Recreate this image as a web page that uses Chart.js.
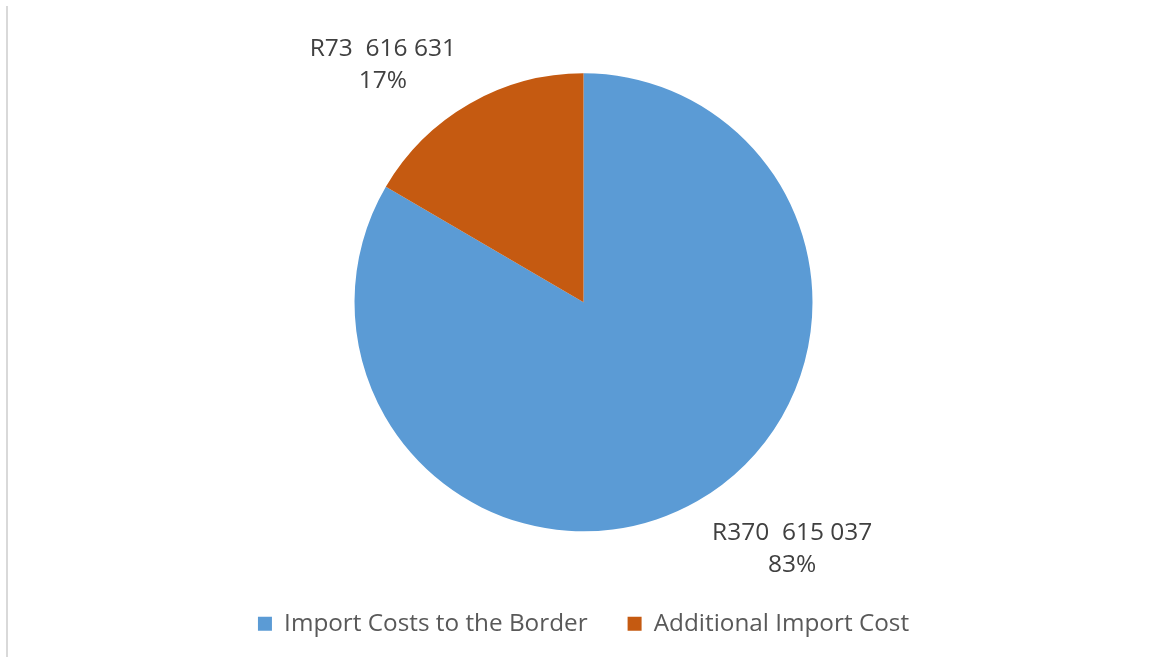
<!DOCTYPE html>
<html lang="en">
<head>
   <meta charset="UTF-8">
   <title>Import Costs</title>
   <script src="https://cdn.jsdelivr.net/npm/chart.js@4/dist/chart.umd.min.js"></script>
   <style>
      html, body { margin: 0; padding: 0; background: #fff; }
      #wrap { position: relative; width: 1152px; height: 657px; }
      #edge { position: absolute; left: 6px; top: 6px; width: 2px; height: 651px; background: #d9d9d9; }
   </style>
</head>
<body>
   <div id="wrap">
      <div id="edge"></div>
      <canvas id="myChart" width="1152" height="657"></canvas>
   </div>
   <script>
      const categories = ['Import Costs to the Border', 'Additional Import Cost'];
      const values = [370615037, 73616631];
      const colores = ['#5b9bd5', '#c55a11'];

      // rand amount with space groups, e.g. R73  616 631
      const rand = (v) => {
         const s = String(v).replace(/\B(?=(\d{3})+(?!\d))/g, ' ');
         return 'R' + s.replace(' ', '  ');
      };

      // value + percent label outside each slice
      const etiquetas = {
         id: 'etiquetas',
         afterDatasetsDraw(chart) {
            const ctx = chart.ctx;
            const meta = chart.getDatasetMeta(0);
            const data = chart.data.datasets[0].data;
            const total = data.reduce((a, b) => a + b, 0);
            ctx.save();
            ctx.font = '24.5px "Open Sans"';
            ctx.fillStyle = '#404040';
            ctx.textAlign = 'center';
            ctx.textBaseline = 'middle';
            meta.data.forEach((arc, i) => {
               const p = arc.getProps(['x', 'y', 'startAngle', 'endAngle', 'outerRadius'], true);
               const ang = (p.startAngle + p.endAngle) / 2 - 10.4 * Math.PI / 180;
               const d = p.outerRadius + 88;
               const cx = p.x + 4 + Math.cos(ang) * d;
               const cy = p.y + 4 + Math.sin(ang) * d;
               const pct = Math.round(data[i] / total * 100) + '%';
               ctx.fillText(rand(data[i]), cx, cy - 15);
               ctx.fillText(pct, cx, cy + 17);
            });
            ctx.restore();
         }
      };

      const myChart = new Chart(document.getElementById('myChart'), {
         type: 'pie',
         data: {
            labels: categories,
            datasets: [{
               data: values,
               backgroundColor: colores,
               borderWidth: 0,
               radius: 229
            }]
         },
         options: {
            responsive: false,
            animation: false,
            layout: { padding: { top: 33, bottom: 11, left: 15, right: 0 } },
            plugins: {
               tooltip: { enabled: false },
               legend: {
                  position: 'bottom',
                  labels: {
                     boxWidth: 14,
                     boxHeight: 14,
                     padding: 40,
                     color: '#595959',
                     font: { family: 'Open Sans', size: 24.3 }
                  }
               }
            }
         },
         plugins: [etiquetas]
      });
   </script>
</body>
</html>
